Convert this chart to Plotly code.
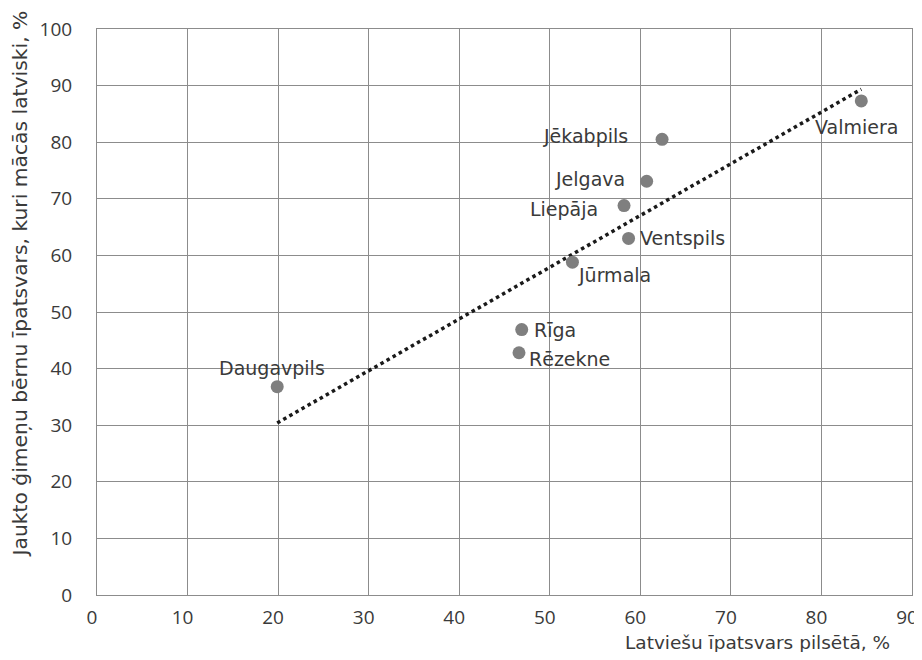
import numpy as np
import plotly.graph_objects as go

cities = ["Daugavpils", "Rīga", "Rēzekne", "Jūrmala", "Liepāja", "Ventspils", "Jelgava", "Jēkabpils", "Valmiera"]
latvian_share = [19.9, 46.9, 46.6, 52.5, 58.2, 58.7, 60.7, 62.4, 84.4]
mixed_latvian = [36.8, 46.9, 42.8, 58.8, 68.8, 63.0, 73.1, 80.5, 87.3]

x_ticks = [0, 10, 20, 30, 40, 50, 60, 70, 80, 90]
y_ticks = [0, 10, 20, 30, 40, 50, 60, 70, 80, 90, 100]

# label placement: (xanchor, xshift, yshift)
label_pos = {
    "Daugavpils": ("center", -5, 19),
    "Rīga": ("left", 10, 0),
    "Rēzekne": ("left", 8, -6),
    "Jūrmala": ("left", 4, -13),
    "Liepāja": ("right", -24, -3),
    "Ventspils": ("left", 9, 0),
    "Jelgava": ("right", -20, 2),
    "Jēkabpils": ("right", -32, 3),
    "Valmiera": ("center", -5, -26),
}

FONT = "DejaVu Sans"
TICKFONT = "Open Sans"
TXT = "#3a3a3a"
GRID = "#8c8c8c"

slope, intercept = np.polyfit(latvian_share, mixed_latvian, 1)
tx = np.array([min(latvian_share), max(latvian_share)])
ty = slope * tx + intercept

fig = go.Figure()
fig.add_trace(go.Scatter(
    x=tx, y=ty, mode="lines",
    line=dict(color="#1a1a1a", width=3.5, dash="dot"),
    hoverinfo="skip", showlegend=False,
))
fig.add_trace(go.Scatter(
    x=latvian_share, y=mixed_latvian, mode="markers",
    marker=dict(color="#7f7f7f", size=13),
    text=cities, hoverinfo="text", showlegend=False,
))

annotations = []
for c, xv, yv in zip(cities, latvian_share, mixed_latvian):
    anchor, dx, dy = label_pos[c]
    annotations.append(dict(
        x=xv, y=yv, xref="x", yref="y", text=c, showarrow=False,
        xanchor=anchor, yanchor="middle", xshift=dx, yshift=dy,
        font=dict(family=FONT, size=19, color=TXT),
    ))

annotations.append(dict(
    text="Latviešu īpatsvars pilsētā, %", xref="paper", yref="paper",
    x=1, y=0, xanchor="right", yanchor="middle", xshift=-20, yshift=-47,
    showarrow=False, font=dict(family=FONT, size=18.5, color=TXT),
))
annotations.append(dict(
    text="Jaukto ģimeņu bērnu īpatsvars, kuri mācās latviski, %", xref="paper", yref="paper",
    x=0, y=1, xanchor="center", yanchor="top", xshift=-78, yshift=20, textangle=-90,
    showarrow=False, font=dict(family=FONT, size=20.3, color=TXT),
))

# page body has an 8px margin; size/margins compensate so the plot sits like the reference
fig.update_layout(
    width=914, height=644,
    margin=dict(l=89, r=10, t=21, b=57),
    paper_bgcolor="white", plot_bgcolor="white",
    annotations=annotations,
    font=dict(family=FONT, size=18, color=TXT),
)
fig.update_xaxes(
    range=[0, 90], tickvals=x_ticks,
    showgrid=True, gridcolor=GRID, gridwidth=1,
    showline=True, linecolor=GRID, linewidth=1, mirror=True, zeroline=False,
    automargin=False, ticklabeloverflow="allow",
    ticks="", ticklabelstandoff=5, ticklabelshift=-5,
    tickfont=dict(family=TICKFONT, size=19, color=TXT),
)
fig.update_yaxes(
    range=[0, 100], tickvals=y_ticks, showgrid=True, gridcolor=GRID, gridwidth=1,
    showline=True, linecolor=GRID, linewidth=1, mirror=True, zeroline=False,
    automargin=False,
    ticks="", ticklabelstandoff=20, tickfont=dict(family=TICKFONT, size=19, color=TXT),
)

fig.write_html("out.html")
